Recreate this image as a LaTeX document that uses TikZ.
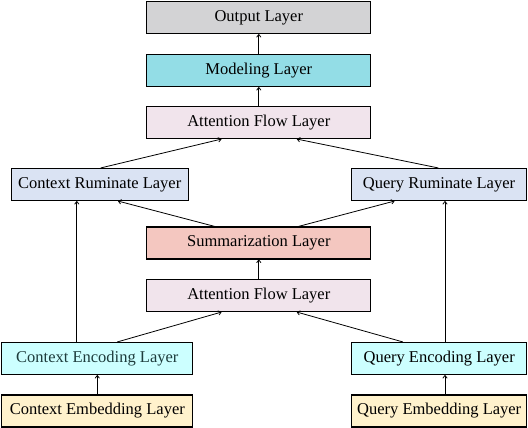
\documentclass[tikz,border=0pt]{standalone}
\usepackage{fontspec}
\setmainfont{Liberation Serif}
\usetikzlibrary{arrows.meta,calc}
\definecolor{cOut}{HTML}{D3D3D5}
\definecolor{cMod}{HTML}{93DDE6}
\definecolor{cAtt}{HTML}{F1E4EC}
\definecolor{cRum}{HTML}{DAE3F3}
\definecolor{cSum}{HTML}{F4C7C0}
\definecolor{cEnc}{HTML}{CCFFFF}
\definecolor{cEmb}{HTML}{FFF2CC}
\definecolor{cTeal}{HTML}{1E3C3C}
\tikzset{
  layerbox/.style={draw=black, line width=1.1pt, rectangle, minimum height=32pt, inner sep=0pt,
    font=\fontsize{16.5}{19}\selectfont},
  conn/.style={line width=0.8pt, -{To[length=3.5pt,width=5pt]}},
}
\begin{document}
\begin{tikzpicture}[x=1pt,y=-1pt]
\useasboundingbox (0,0) rectangle (528,428);
\node[layerbox, fill=cOut, minimum width=224pt] (out) at (258.8,17.5) {Output Layer};
\node[layerbox, fill=cMod, minimum width=224pt] (mod) at (258.8,70.5) {Modeling Layer};
\node[layerbox, fill=cAtt, minimum width=224pt] (att2) at (258.8,122.5) {Attention Flow Layer};
\node[layerbox, fill=cRum, minimum width=177pt] (cr) at (99.7,184.5) {Context Ruminate Layer};
\node[layerbox, fill=cRum, minimum width=175pt] (qr) at (439,184.5) {Query Ruminate Layer};
\node[layerbox, fill=cSum, minimum width=224pt] (sum) at (258.8,243) {Summarization Layer};
\node[layerbox, fill=cAtt, minimum width=224pt] (att1) at (258.8,295.5) {Attention Flow Layer};
\node[layerbox, fill=cEnc, minimum width=191pt, text=cTeal] (ce) at (97.3,358.5) {Context Encoding Layer};
\node[layerbox, fill=cEnc, minimum width=175pt] (qe) at (439.2,358.5) {Query Encoding Layer};
\node[layerbox, fill=cEmb, minimum width=191pt] (cemb) at (97.3,411) {Context Embedding Layer};
\node[layerbox, fill=cEmb, minimum width=175pt] (qemb) at (439.2,411) {Query Embedding Layer};
% center column
\draw[conn] (mod.north) -- (out.south);
\draw[conn] (att2.north) -- (mod.south);
\draw[conn] (att1.north) -- (sum.south);
% ruminate to top attention
\draw[conn] ([xshift=1pt]cr.north) -- ([xshift=-37.3pt]att2.south);
\draw[conn] ([xshift=-0.7pt]qr.north) -- ([xshift=38pt]att2.south);
% summarization to ruminate
\draw[conn] ([xshift=-44pt]sum.north) -- ([xshift=18.3pt]cr.south);
\draw[conn] ([xshift=39.6pt]sum.north) -- ([xshift=-44.5pt]qr.south);
% encoding to ruminate
\draw[conn] ([xshift=-20.5pt]ce.north) -- ([xshift=-20.5pt]ce.north |- cr.south);
\draw[conn] ([xshift=5.8pt]qe.north) -- ([xshift=5.8pt]qe.north |- qr.south);
% encoding to lower attention
\draw[conn] ([xshift=20pt]ce.north) -- ([xshift=-37.3pt]att1.south);
\draw[conn] ([xshift=-36.3pt]qe.north) -- ([xshift=38pt]att1.south);
% embedding to encoding
\draw[conn] (cemb.north) -- (ce.south);
\draw[conn] ([xshift=5.8pt]qemb.north) -- ([xshift=5.8pt]qe.south);
\end{tikzpicture}
\end{document}
